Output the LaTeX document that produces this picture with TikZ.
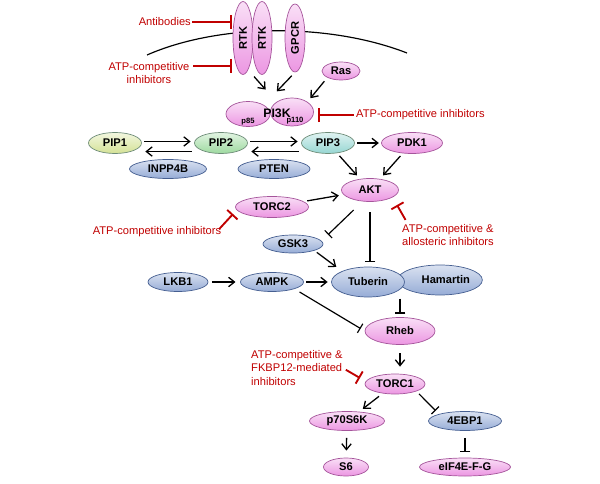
\documentclass[tikz,border=0pt]{standalone}
\usepackage{fontspec}
\setmainfont{Liberation Sans}
\usetikzlibrary{shapes.geometric,arrows.meta,calc}

\definecolor{molpink}{RGB}{236,150,226}
\definecolor{pinkline}{RGB}{165,85,155}
\definecolor{molblue}{RGB}{150,172,214}
\definecolor{blueline}{RGB}{70,95,145}
\definecolor{pipyel}{RGB}{212,226,150}
\definecolor{pipgrn}{RGB}{158,218,160}
\definecolor{pipcyn}{RGB}{150,214,210}
\definecolor{pipline}{RGB}{110,140,120}
\definecolor{drugred}{RGB}{192,0,0}

\tikzset{
  mol/.style={ellipse, draw, line width=0.6pt, inner sep=0pt,
    font=\fontsize{9.5}{11}\selectfont\bfseries},
  sz/.style 2 args={minimum width=#1*0.03cm, minimum height=#2*0.03cm},
  pinkmol/.style={mol, draw=pinkline, top color=molpink!30!white, bottom color=molpink},
  bluemol/.style={mol, draw=blueline, top color=molblue!35!white, bottom color=molblue},
  pipmol/.style={mol, draw=pipline, top color=#1!30!white, bottom color=#1},
  subunit/.style={inner sep=0pt, font=\fontsize{6.5}{7}\selectfont\bfseries},
  act/.style={-{Straight Barb[length=5pt,width=8pt]}, line width=1.1pt},
  inh/.style={-{Bar[width=9pt]}, line width=1pt},
  drug/.style={drugred, line width=1.6pt, -{Bar[width=12pt]}},
  drugtext/.style={text=drugred, inner sep=0pt, font=\fontsize{9.5}{11.5}\selectfont}
}

\begin{document}
\begin{tikzpicture}[x=0.03cm,y=-0.03cm]
\useasboundingbox (0,0) rectangle (600,483);

% membrane
\draw[line width=1pt] (147,55) .. controls (220,23) and (330,23) .. (407,53);

% receptors and PI3K
\node[pinkmol, sz={73}{20}, rotate=90] (rtka) at (243,38) {RTK};
\node[pinkmol, sz={73}{20}, rotate=90] (rtkb) at (262,38) {RTK};
\node[pinkmol, sz={68}{20}, rotate=90] (gpcr) at (295,38) {GPCR};
\node[pinkmol, sz={38}{18}] (ras) at (341,71) {Ras};
\node[pinkmol, sz={44}{25}] (p85) at (248,114) {};
\node[pinkmol, sz={43}{28}] (p110) at (292,112) {};
\node[inner sep=0pt, font=\fontsize{10.5}{12}\selectfont\bfseries] (pi3k) at (277,113) {PI3K};
\node[subunit] (p85lbl) at (248,122) {p85};
\node[subunit] (p110lbl) at (295,121) {p110};

% lipids
\node[pipmol=pipyel, sz={53}{21}] (pip1) at (115,143) {PIP1};
\node[pipmol=pipgrn, sz={53}{21}] (pip2) at (221,143) {PIP2};
\node[pipmol=pipcyn, sz={53}{21}] (pip3) at (328,143) {PIP3};
\node[pinkmol, sz={61}{21}] (pdk1) at (412,143) {PDK1};
\node[bluemol, sz={77}{19}] (inpp4b) at (168,169) {INPP4B};
\node[bluemol, sz={72}{19}] (pten) at (274,169) {PTEN};

% AKT / mTOR axis
\node[pinkmol, sz={57}{23}] (akt) at (370,190) {AKT};
\node[pinkmol, sz={73}{21}] (torc2) at (272,207) {TORC2};
\node[bluemol, sz={60}{18}] (gsk3) at (293,244) {GSK3};
\node[bluemol, sz={60}{19}] (lkb1) at (178,282) {LKB1};
\node[bluemol, sz={63}{19}] (ampk) at (272,282) {AMPK};
\node[bluemol, sz={80}{30}] (hamartin) at (440,280) {\hspace*{0.35cm}Hamartin};
\node[bluemol, sz={73}{30}] (tuberin) at (368,282) {Tuberin};
\node[pinkmol, sz={70}{27}] (rheb) at (400,331) {Rheb};
\node[pinkmol, sz={60}{20}] (torc1) at (395,384) {TORC1};
\node[pinkmol, sz={75}{19}] (p70s6k) at (347,421) {p70S6K};
\node[bluemol, sz={73}{19}] (ebp1) at (465,421) {4EBP1};
\node[pinkmol, sz={45}{18}] (s6) at (346,467) {S6};
\node[pinkmol, sz={91}{18}] (eif) at (465,467) {eIF4E-F-G};

% activation / inhibition
\draw[act, shorten <=2pt, shorten >=14pt] ($(rtka.west)!.5!(rtkb.west)$) -- (p110.north west);
\draw[act, shorten <=4pt, shorten >=16pt] (gpcr.west) -- (p85.north east);
\draw[act, shorten <=4pt, shorten >=4pt] (ras.south west) -- (p110.north east);

\draw[act, shorten <=2pt, shorten >=3pt] ([yshift=1.3pt]pip1.east) -- ([yshift=1.3pt]pip2.west);
\draw[act, shorten <=2pt, shorten >=3pt] ([yshift=-7.3pt]pip2.west) -- ([yshift=-7.3pt]pip1.east);
\draw[act, shorten <=2pt, shorten >=3pt] ([yshift=1.3pt]pip2.east) -- ([yshift=1.3pt]pip3.west);
\draw[act, shorten <=2pt, shorten >=3pt] ([yshift=-7.3pt]pip3.west) -- ([yshift=-7.3pt]pip2.east);
\draw[act, shorten <=2pt, shorten >=2pt] (pip3) -- (pdk1);
\draw[act, shorten <=3pt, shorten >=4pt] (pip3) -- (akt);
\draw[act, shorten <=3pt, shorten >=4pt] (pdk1) -- (akt);
\draw[act, shorten <=3pt, shorten >=4pt] (torc2) -- (akt);

\draw[inh] ([xshift=-14pt,yshift=-7pt]akt.south) -- ([xshift=4pt,yshift=8pt]gsk3.east);
\draw[inh, shorten <=9pt, shorten >=4pt] (akt.south) -- (akt.south |- tuberin.north);
\draw[act, shorten <=2.5pt, shorten >=6pt] (gsk3.south east) -- (tuberin.north west);
\draw[act, shorten <=3pt, shorten >=4pt] (lkb1) -- (ampk);
\draw[act, shorten <=2pt, shorten >=3pt] (ampk) -- (tuberin);
\draw[inh, shorten <=5pt, shorten >=4pt] (ampk.south east) -- (rheb.west);
\draw[inh, shorten <=1pt, shorten >=3pt] (rheb.north |- tuberin.south) -- (rheb.north);
\draw[act, shorten <=7pt, shorten >=6pt] (rheb.south) -- (rheb.south |- torc1.north);
\draw[act, shorten <=4pt, shorten >=4pt] (torc1) -- (p70s6k);
\draw[inh, shorten <=3pt, shorten >=4pt] (torc1.south east) -- (ebp1.north west);
\draw[act, shorten <=6pt, shorten >=6pt] (p70s6k) -- (s6);
\draw[inh, shorten <=6pt, shorten >=5pt] (ebp1) -- (eif);

% drugs
\node[drugtext, anchor=east] (antib) at (191,22) {Antibodies};
\coordinate (rtkhit) at (232,22);
\draw[drug, shorten <=1pt] (antib.east) -- (rtkhit);
\node[drugtext, align=center] (atprtk) at (149,73) {ATP-competitive\\inhibitors};
\coordinate (rtkhitb) at (232,66);
\draw[drug, shorten <=3pt] (atprtk.east |- rtkhitb) -- (rtkhitb);
\node[drugtext, anchor=west] (atppi) at (356,115) {ATP-competitive inhibitors};
\coordinate (pihit) at (318,115);
\draw[drug, shorten <=2pt] (atppi.west) -- (pihit);
\node[drugtext] (atpmt2) at (157,232) {ATP-competitive inhibitors};
\coordinate (torc2hit) at (233,214);
\draw[drug, shorten <=-3pt] (atpmt2.north east) -- (torc2hit);
\node[drugtext, align=left, anchor=north west] (atpakt) at (402,224) {ATP-competitive \&\\allosteric inhibitors};
\coordinate (akthit) at (397,205);
\draw[drug, shorten <=4pt] ([xshift=5pt]atpakt.north west) -- (akthit);
\node[drugtext, align=left, anchor=west] (atpmt1) at (251,368) {ATP-competitive \&\\FKBP12-mediated\\inhibitors};
\coordinate (torc1hit) at (360,378);
\draw[drug, shorten <=3pt] (atpmt1.east) -- (torc1hit);
\end{tikzpicture}
\end{document}
